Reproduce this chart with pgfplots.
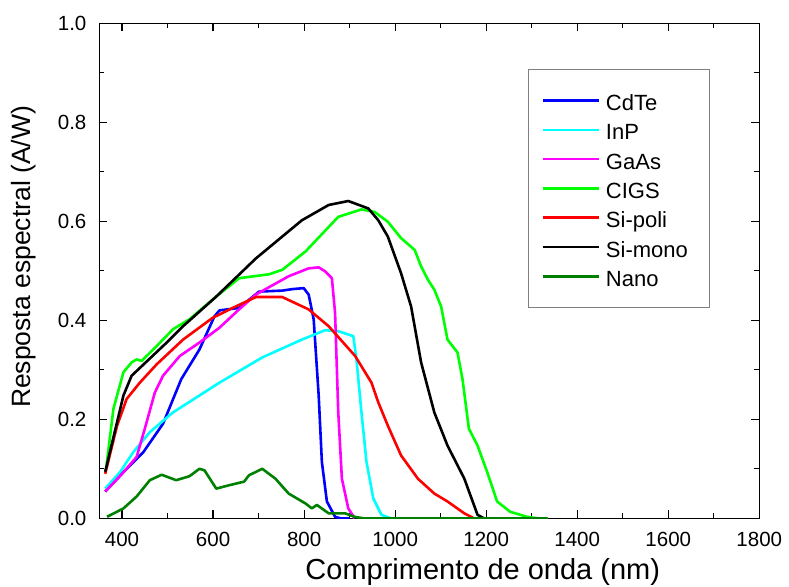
\documentclass[border=0pt]{standalone}
\usepackage{pgfplots}
\pgfplotsset{compat=1.18}
\usepackage{fontspec}
\setmainfont{Liberation Sans}
\definecolor{cdteblue}{RGB}{0,0,255}
\definecolor{inpcyan}{RGB}{0,255,255}
\definecolor{gaasmag}{RGB}{255,0,255}
\definecolor{cigsgreen}{RGB}{0,255,0}
\definecolor{polired}{RGB}{255,0,0}
\definecolor{nanogreen}{RGB}{0,128,0}

\begin{document}
\begin{tikzpicture}
\begin{axis}[
    scale only axis,
    width=330pt, height=247.5pt,
    xmin=350, xmax=1800,
    ymin=0, ymax=1,
    xtick distance=200, ytick distance=0.2,
    minor x tick num=1, minor y tick num=1,
    tickwidth=4pt, subtickwidth=2.5pt,
    tick style={black, line width=0.6pt},
    axis line style={line width=0.75pt},
    tick label style={font=\fontsize{10.25}{12}\selectfont,
        /pgf/number format/assume math mode=true},
    xticklabel style={inner sep=0pt, yshift=-6.75pt,
        /pgf/number format/1000 sep={}},
    yticklabel style={inner sep=0pt, xshift=-6.25pt,
        /pgf/number format/fixed, /pgf/number format/fixed zerofill,
        /pgf/number format/precision=1},
    xlabel={Comprimento de onda (nm)},
    ylabel={Resposta espectral (A/W)},
    xlabel style={font=\fontsize{14.5}{17}\selectfont, inner sep=0pt,
        at={(axis description cs:0.581,-0.108)}, anchor=center},
    ylabel style={font=\fontsize{13.25}{15.5}\selectfont, inner sep=0pt,
        at={(axis description cs:-0.114,0.528)}, anchor=center},
    every axis plot/.append style={line width=1.3pt, line join=round},
    legend cell align=left,
    legend style={
        at={(axis description cs:0.925,0.907)}, anchor=north east,
        draw=gray, line width=0.5pt,
        inner xsep=6.65pt, inner ysep=10.35pt,
        font=\fontsize{11}{13}\selectfont,
        nodes={inner sep=0pt, text height=10pt, text depth=0pt},
        row sep=4.65pt, column sep=3pt,
    },
    legend image code/.code={\draw[#1, line width=1.3pt] (0pt,0pt) -- (28pt,0pt);},
]
% CdTe
\addplot[cdteblue] coordinates {
    (363,0.054) (410,0.100) (447,0.134) (490,0.191) (530,0.281) (570,0.341)
    (603,0.408) (614,0.420) (657,0.425) (701,0.458) (752,0.460) (774,0.463)
    (799,0.465) (810,0.452) (821,0.402) (832,0.248) (839,0.114) (850,0.034)
    (868,0.003) (880,0) (900,0)
};
\addlegendentry{\makebox[45pt][l]{CdTe}}

% InP
\addplot[inpcyan] coordinates {
    (363,0.060) (396,0.094) (425,0.134) (461,0.174) (512,0.214) (614,0.274)
    (708,0.325) (795,0.361) (846,0.380) (875,0.378) (908,0.368) (915,0.321)
    (926,0.214) (937,0.114) (952,0.040) (970,0.007) (990,0)
};
\addlegendentry{InP}

% GaAs
\addplot[gaasmag] coordinates {
    (363,0.054) (400,0.090) (432,0.124) (450,0.181) (472,0.254) (490,0.288)
    (527,0.328) (570,0.355) (614,0.385) (657,0.422) (694,0.452) (766,0.489)
    (810,0.505) (832,0.507) (846,0.499) (861,0.485) (868,0.415) (875,0.214)
    (883,0.080) (897,0.020) (911,0)
};
\addlegendentry{GaAs}

% CIGS
\addplot[cigsgreen] coordinates {
    (365,0.100) (381,0.221) (403,0.295) (421,0.315) (432,0.321) (443,0.318)
    (476,0.348) (512,0.382) (548,0.402) (607,0.448) (657,0.485) (723,0.493)
    (752,0.502) (803,0.539) (875,0.609) (926,0.624) (955,0.619) (984,0.599)
    (1013,0.566) (1043,0.542) (1057,0.509) (1072,0.482) (1086,0.462)
    (1101,0.428) (1115,0.361) (1137,0.335) (1148,0.281) (1162,0.181)
    (1181,0.147) (1202,0.094) (1224,0.034) (1253,0.013) (1290,0.003)
    (1312,0) (1335,0)
};
\addlegendentry{CIGS}

% Si-poli
\addplot[polired] coordinates {
    (363,0.090) (389,0.187) (410,0.241) (439,0.274) (476,0.311) (534,0.361)
    (599,0.405) (643,0.425) (694,0.447) (752,0.447) (810,0.422) (854,0.388)
    (912,0.328) (948,0.274) (963,0.234) (984,0.187) (1013,0.127) (1050,0.080)
    (1086,0.050) (1115,0.034) (1152,0.010) (1173,0) (1200,0)
};
\addlegendentry{Si-poli}

% Si-mono
\addplot[black] coordinates {
    (363,0.094) (403,0.248) (421,0.288) (498,0.355) (534,0.388) (607,0.448)
    (694,0.525) (795,0.602) (854,0.633) (897,0.641) (941,0.626) (963,0.602)
    (984,0.569) (1013,0.495) (1035,0.428) (1057,0.315) (1086,0.214)
    (1115,0.147) (1152,0.080) (1181,0.007) (1195,0)
};
\addlegendentry{Si-mono}

% Nano
\addplot[nanogreen] coordinates {
    (367,0.003) (403,0.020) (432,0.044) (461,0.077) (487,0.088) (519,0.077)
    (548,0.085) (570,0.100) (581,0.097) (607,0.060) (636,0.067) (668,0.074)
    (679,0.087) (708,0.100) (737,0.080) (766,0.050) (803,0.030) (817,0.020)
    (828,0.027) (854,0.010) (890,0.010) (911,0.003) (930,0) (1335,0)
};
\addlegendentry{Nano}
\end{axis}
% page frame, larger than everything drawn
\path (current axis.south west) ++(-49.65pt,-33.85pt) rectangle ++(394.5pt,293pt);
\end{tikzpicture}
\end{document}
